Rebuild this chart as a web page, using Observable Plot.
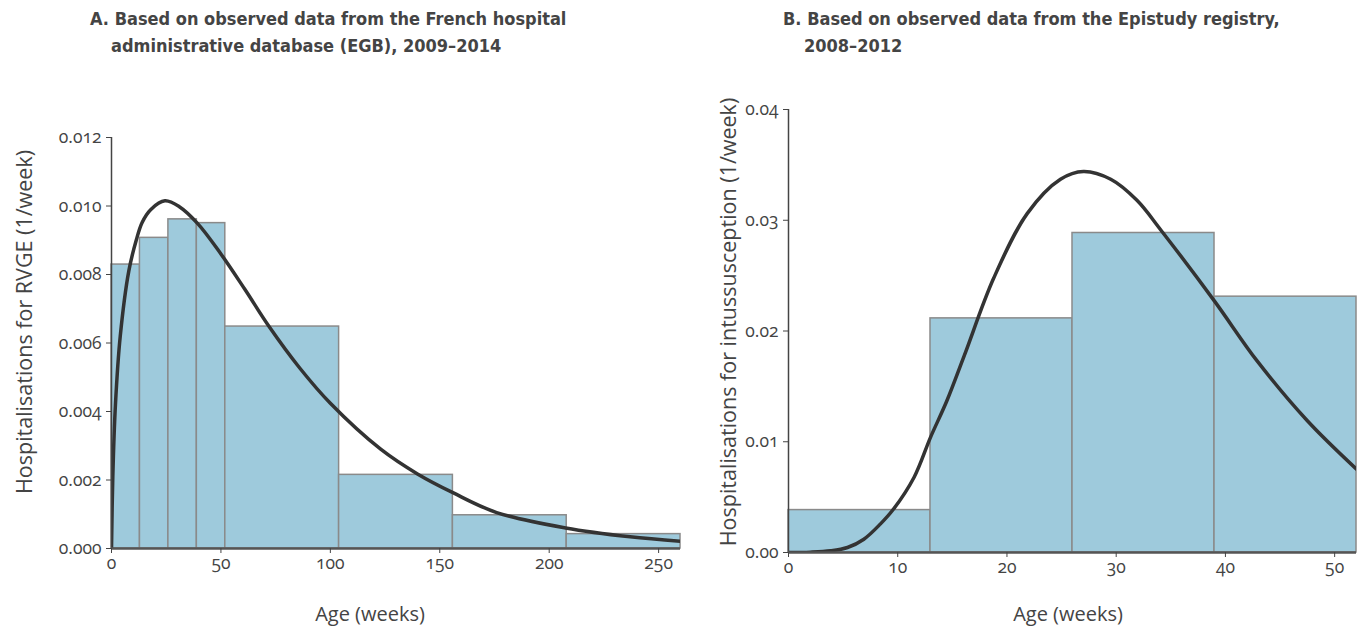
<!DOCTYPE html>
<html>
<head>
<meta charset="utf-8">
<script src="https://cdn.jsdelivr.net/npm/d3@7"></script>
<script src="https://cdn.jsdelivr.net/npm/@observablehq/plot@0.6"></script>
<style>
  html, body { margin: 0; padding: 0; background: #fff; }
  #root { position: relative; width: 1365px; height: 630px; overflow: hidden; font-family: "Open Sans", "Lato", sans-serif; color: #444; }
  .title { position: absolute; font-family: "Liberation Sans Narrow", "DejaVu Sans Condensed", "Roboto", sans-serif; font-weight: bold; font-size: 18px; line-height: 27px; color: #444; white-space: nowrap; }
  .title .l2 { padding-left: 21px; }
  .xlab { position: absolute; font-size: 20px; color: #444; white-space: nowrap; transform: translateX(-50%); }
  .ylab { position: absolute; font-size: 21.5px; color: #444; white-space: nowrap; transform: translate(-50%, -50%) rotate(-90deg); }
  .panel { position: absolute; top: 90px; }
  .panel svg text { font-size: 17.5px !important; font-variant-numeric: oldstyle-nums; fill: #444; }
</style>
</head>
<body>
<div id="root">
  <div class="title" style="left:90px; top:5px;">A. Based on observed data from the French hospital<br><span class="l2">administrative database (EGB), 2009–2014</span></div>
  <div class="title" style="left:783px; top:5px;">B. Based on observed data from the Epistudy registry,<br><span class="l2">2008–2012</span></div>
  <div class="panel" id="pA" style="left:0px;"></div>
  <div class="panel" id="pB" style="left:690px;"></div>
  <div class="xlab" style="left:370px; top:600px;">Age (weeks)</div>
  <div class="xlab" style="left:1068px; top:600px;">Age (weeks)</div>
  <div class="ylab" style="left:23px; top:322px;">Hospitalisations for RVGE (1/week)</div>
  <div class="ylab" style="left:727px; top:322px;">Hospitalisations for intussusception (1/week)</div>
</div>
<script>
// ---------- Panel A data (French hospital database, EGB) ----------
const binEdgesA = [0, 13, 26, 39, 52, 104, 156, 208, 260];
const ratesA = [0.00829, 0.00907, 0.00961, 0.0095, 0.00648, 0.00215, 0.00097, 0.00042];
const curveWeeksA = [0, 0.6, 1.8, 4, 7.9, 11.3, 14, 18, 24.4, 31, 39.5, 50, 61, 72, 86, 100, 123, 140, 156, 176, 207.5, 237, 260];
const curveRatesA = [0, 0.0021, 0.0042, 0.0062, 0.0081, 0.0090, 0.00952, 0.0099, 0.01015, 0.00998, 0.00948, 0.0086, 0.00756, 0.00648, 0.00527, 0.00424, 0.0029, 0.00217, 0.00163, 0.00105, 0.0006, 0.00034, 0.00021];
const xTicksA = [0, 50, 100, 150, 200, 250];
const yTicksA = [0, 0.002, 0.004, 0.006, 0.008, 0.010, 0.012];

// ---------- Panel B data (Epistudy registry) ----------
const binEdgesB = [0, 13, 26, 39, 52];
const ratesB = [0.00383, 0.02114, 0.02885, 0.0231];
const curveWeeksB = [0, 2, 3.85, 5.4, 6.9, 8.4, 9.6, 11.5, 13, 14.5, 16.1, 18.8, 21.85, 24.9, 27, 29.5, 31.9, 34.1, 39, 42.9, 47.5, 52];
const curveRatesB = [0, 0.00003, 0.00015, 0.00045, 0.0012, 0.00256, 0.0039, 0.0068, 0.0104, 0.0137, 0.0178, 0.0248, 0.0306, 0.0337, 0.0344, 0.0337, 0.0318, 0.0291, 0.0227, 0.0173, 0.0119, 0.00753];
const xTicksB = [0, 10, 20, 30, 40, 50];
const yTicksB = [0, 0.01, 0.02, 0.03, 0.04];

function bins(edges, rates) {
  return rates.map((r, i) => ({x1: edges[i], x2: edges[i + 1], y: r}));
}
function pts(xs, ys) {
  return xs.map((x, i) => ({x, y: ys[i]}));
}

function panel({edges, rates, cx, cy, xTicks, yTicks, yFmt, width, height, mL, mR, mT, mB}) {
  const xMax = edges[edges.length - 1];
  return Plot.plot({
    width, height,
    marginLeft: mL, marginRight: mR, marginTop: mT, marginBottom: mB,
    style: {fontFamily: '"Open Sans", "Lato", sans-serif', color: "#444", background: "white"},
    x: {domain: [0, xMax]},
    y: {domain: [0, yTicks[yTicks.length - 1]]},
    marks: [
      Plot.rectY(bins(edges, rates), {x1: "x1", x2: "x2", y: "y", fill: "#9ecadc", stroke: "#8a8a8a", strokeWidth: 1.5}),
      Plot.line(pts(cx, cy), {x: "x", y: "y", curve: "catmull-rom", stroke: "#333", strokeWidth: 3.5, clip: true}),
      Plot.ruleX([0], {stroke: "#444", strokeWidth: 1.5}),
      Plot.ruleY([0], {stroke: "#555", strokeWidth: 2.5}),
      Plot.axisX({ticks: xTicks, tickFormat: d3.format("d"), tickSize: 5, tickPadding: 3, label: null, stroke: "#444"}),
      Plot.axisY({ticks: yTicks, tickFormat: d3.format(yFmt), tickSize: 5, tickPadding: 5, label: null, stroke: "#444"})
    ]
  });
}

document.getElementById("pA").appendChild(panel({
  edges: binEdgesA, rates: ratesA, cx: curveWeeksA, cy: curveRatesA,
  xTicks: xTicksA, yTicks: yTicksA, yFmt: ".3f",
  width: 700, height: 540, mL: 111, mR: 20, mT: 47, mB: 82
}));
document.getElementById("pB").appendChild(panel({
  edges: binEdgesB, rates: ratesB, cx: curveWeeksB, cy: curveRatesB,
  xTicks: xTicksB, yTicks: yTicksB, yFmt: ".2f",
  width: 675, height: 540, mL: 98, mR: 9, mT: 19, mB: 78
}));
</script>
</body>
</html>
